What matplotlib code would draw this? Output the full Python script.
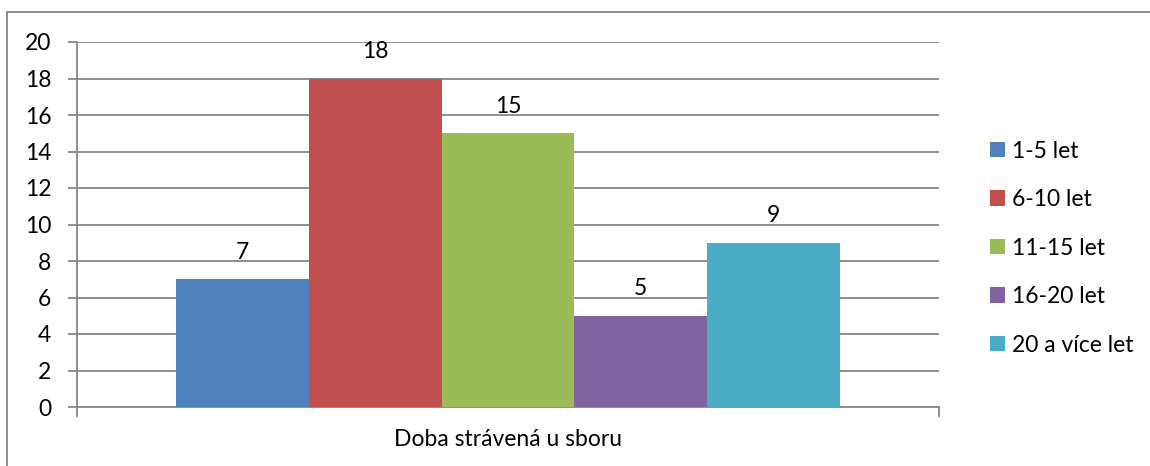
import matplotlib
matplotlib.use("Agg")
import matplotlib.pyplot as plt
from matplotlib.lines import Line2D
from matplotlib.patches import Patch

# data
category = "Doba strávená u sboru"
groups = ["1-5 let", "6-10 let", "11-15 let", "16-20 let", "20 a více let"]
counts = [7, 18, 15, 5, 9]
colors = ["#4F81BD", "#C0504D", "#9BBB59", "#8064A2", "#4BACC6"]
yticks = [0, 2, 4, 6, 8, 10, 12, 14, 16, 18, 20]

plt.rcParams['font.family'] = ['Lato', 'DejaVu Sans']
grey = "#868686"
fs = 16.5

fig = plt.figure(figsize=(11.5, 4.66), dpi=100)
ax = fig.add_axes([77 / 1150, 59 / 466, 862 / 1150, 365 / 466])

bar_w = 0.154
n = len(groups)
for i in range(n):
    x = (i - (n - 1) / 2) * bar_w
    ax.bar(x, counts[i], width=bar_w, color=colors[i], zorder=3, label=groups[i])
    ax.annotate(str(counts[i]), (x, counts[i]), xytext=(0, 12), textcoords="offset points",
                ha="center", va="bottom", fontsize=fs, color="black", zorder=4)

ax.set_xlim(-0.5, 0.5)
ax.set_ylim(0, 20)
ax.set_yticks(yticks)
ax.yaxis.grid(True, color=grey, linewidth=1.3, zorder=0)
ax.set_axisbelow(True)

ax.set_xticks([0])
ax.set_xticklabels([category], fontsize=fs)
ax.tick_params(axis="x", which="major", length=0, pad=15.5)
ax.set_xticks([-0.5, 0.5], minor=True)
ax.tick_params(axis="x", which="minor", length=7, width=1.3, color=grey, direction="out")
ax.tick_params(axis="y", length=6.5, width=1.3, color=grey, direction="out", labelsize=fs, pad=12)

for s in ["top", "right"]:
    ax.spines[s].set_visible(False)
for s in ["left", "bottom"]:
    ax.spines[s].set_color(grey)
    ax.spines[s].set_linewidth(1.3)

handles = [Patch(facecolor=c, edgecolor="none") for c in colors]
fig.legend(handles, groups, loc="upper left", bbox_to_anchor=(0.851, 0.723), frameon=False,
           fontsize=fs, handlelength=0.65, handleheight=0.65, handletextpad=0.3,
           labelspacing=1.2, borderpad=0)

# outer chart border (left and top visible)
fig.add_artist(Line2D([7 / 1150, 7 / 1150], [0, 1 - 12 / 466], color=grey, linewidth=1.3,
                      transform=fig.transFigure))
fig.add_artist(Line2D([7 / 1150, 1], [1 - 12 / 466, 1 - 12 / 466], color=grey, linewidth=1.3,
                      transform=fig.transFigure))

fig.savefig("out.png", dpi=100)
